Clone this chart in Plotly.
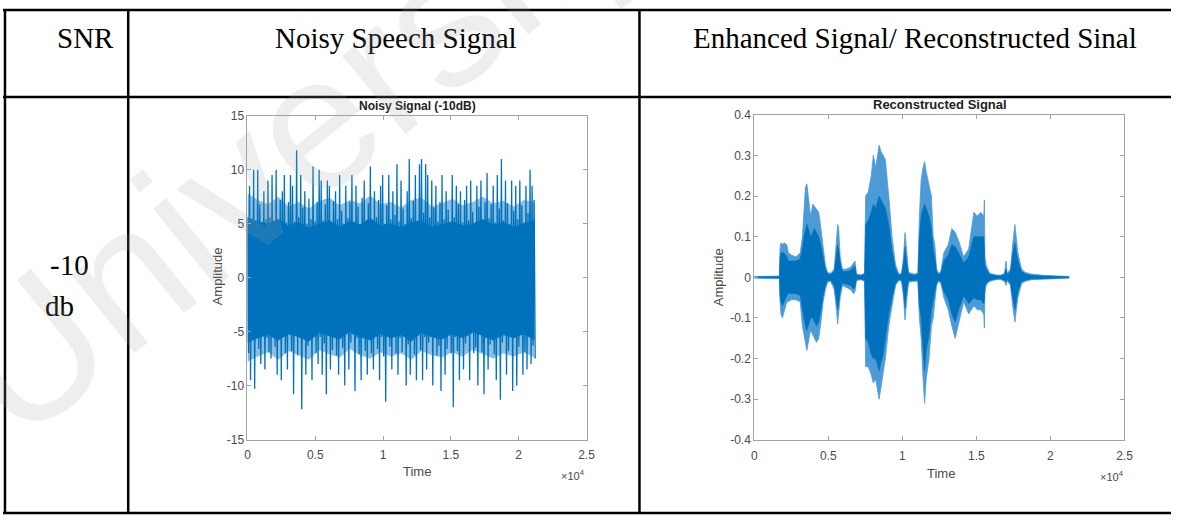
import plotly.graph_objects as go

# ---------------- data ----------------
headers = ["SNR", "Noisy Speech Signal", "Enhanced Signal/ Reconstructed Sinal"]
snr_label = ["-10", "db"]

x_ticks = [0, 5000, 10000, 15000, 20000, 25000]
x_ticklabels = ["0", "0.5", "1", "1.5", "2", "2.5"]

noisy_yticks = [-15, -10, -5, 0, 5, 10, 15]
noisy_yticklabels = ["-15", "-10", "-5", "0", "5", "10", "15"]

recon_yticks = [-0.4, -0.3, -0.2, -0.1, 0, 0.1, 0.2, 0.3, 0.4]
recon_yticklabels = ["-0.4", "-0.3", "-0.2", "-0.1", "0", "0.1", "0.2", "0.3", "0.4"]

# noisy signal: peak / trough per block of `noisy_step` samples
noisy_step = 151
noisy_upper = [
    5.5, 8.5, 5.2, 10, 5.0, 10, 6.8, 5.1, 8, 5.4,
    9, 5.6, 9.5, 5.0, 10, 5.3, 7.2, 8, 9.5, 5.1,
    7.0, 9.5, 8.5, 5.2, 11.8, 5.6, 9.5, 6.5, 8, 5.0,
    7.3, 5.4, 10.3, 5.2, 7.0, 10, 9, 5.3, 6.8, 9,
    8.5, 5.1, 7.1, 8, 5.4, 9.5, 6.2, 5.0, 8.5, 5.5,
    7.0, 9.5, 5.2, 8.5, 6.6, 4.9, 7.4, 9, 5.3, 6.9,
    10.3, 5.1, 8, 5.6, 7.2, 8.5, 9.5, 5.0, 6.7, 9.5,
    5.4, 8, 5.8, 10.5, 5.2, 9, 6.4, 5.0, 8, 11,
    5.5, 7.1, 9.5, 5.3, 10.5, 11, 6.0, 10.5, 9.5, 5.6,
    9, 6.5, 8.5, 5.2, 7.0, 9.5, 5.4, 8, 6.3, 5.0,
    9.5, 5.6, 8.5, 6.8, 8, 5.1, 7.2, 8.5, 5.3, 9,
    6.1, 5.0, 8.5, 6.6, 9, 5.2, 7.0, 9.7, 5.5, 6.8,
    8.5, 5.1, 9.5, 6.4, 11, 5.3, 9, 6.9, 5.0, 9,
    6.2, 8.5, 5.4, 9, 6.7, 5.1, 8.5, 6.0, 10, 8.5,
    7.2,
]
noisy_lower = [
    -7.0, -9.5, -5.0, -10.3, -5.4, -6.6, -8, -5.1, -8.5, -5.6,
    -6.9, -7.5, -5.2, -6.4, -9, -5.0, -9.5, -5.5, -7.0, -8.5,
    -5.3, -6.8, -10.8, -5.1, -7.2, -5.6, -12.2, -5.0, -9, -6.3,
    -5.4, -9.5, -5.2, -7.0, -8, -5.5, -9, -6.1, -10.8, -5.3,
    -8.5, -6.7, -5.0, -7.2, -9, -5.4, -6.5, -10, -5.1, -8.5,
    -6.0, -5.3, -10.5, -5.6, -7.1, -9.5, -5.0, -6.8, -9, -5.4,
    -7.0, -8.5, -5.2, -6.6, -9.5, -5.5, -7.3, -11.5, -5.1, -6.4,
    -8.5, -5.3, -7.0, -9, -5.6, -6.9, -5.0, -10, -6.2, -9,
    -5.4, -7.1, -9.5, -5.2, -6.7, -9.5, -5.5, -8.5, -6.0, -5.1,
    -10, -5.4, -7.2, -6.3, -10.5, -5.0, -9, -6.6, -5.3, -7.0,
    -12, -5.5, -6.8, -9.5, -5.1, -8.5, -6.1, -5.4, -9.5, -5.2,
    -7.0, -6.5, -10, -5.3, -6.9, -10.8, -5.6, -8.5, -6.2, -5.0,
    -7.1, -9.5, -5.4, -11.3, -6.0, -5.2, -9, -6.8, -5.5, -10.5,
    -5.1, -10, -6.4, -5.3, -9, -6.9, -8.5, -5.0, -8, -6.3,
    -7.5,
]
# dense body of the noisy waveform, one value every 5 blocks
noisy_core_upper = [
    5.6, 5.2, 5.0, 5.4, 4.8, 5.1, 4.6, 5.0, 5.3, 4.7,
    5.2, 4.9, 5.5, 4.8, 5.0, 4.6, 5.1, 5.3, 4.7, 4.9,
    5.2, 4.8, 5.0, 5.4, 4.9, 5.1, 4.7, 5.0, 5.3,
]
noisy_core_lower = [
    -6.0, -5.6, -5.3, -5.8, -5.2, -5.5, -5.9, -5.1, -5.4, -5.7,
    -5.0, -5.5, -5.8, -5.2, -5.6, -5.3, -5.9, -5.1, -5.5, -5.7,
    -5.2, -5.6, -5.0, -5.4, -5.8, -5.3, -5.6, -5.2, -5.8,
]
# looser fringe around the body, same spacing
noisy_fringe_upper = [
    7.8, 7.2, 6.8, 7.5, 6.6, 7.0, 6.4, 7.1, 7.4, 6.7,
    7.2, 6.9, 7.6, 6.8, 7.0, 6.5, 7.2, 7.4, 6.6, 6.9,
    7.3, 6.7, 7.0, 7.5, 6.9, 7.1, 6.6, 7.2, 7.0,
]
noisy_fringe_lower = [
    -7.8, -7.3, -6.9, -7.6, -6.8, -7.2, -7.6, -6.7, -7.1, -7.4,
    -6.6, -7.2, -7.5, -6.9, -7.3, -7.0, -7.6, -6.8, -7.2, -7.4,
    -6.9, -7.3, -6.7, -7.1, -7.5, -7.0, -7.3, -6.9, -7.4,
]
noisy_core_every = 5

# reconstructed signal: outer envelope and denser inner core (sample index, amplitude)
recon_t = [
    0, 1000, 1700, 1740, 1800, 1900, 2000, 2200, 2300, 2500,
    2800, 3100, 3250, 3350, 3450, 3550, 3650, 3800, 3950, 4050,
    4200, 4350, 4500, 4650, 4800, 4950, 5150, 5400, 5550, 5630,
    5700, 5800, 5950, 6200, 6500, 6700, 6800, 6900, 7200, 7450,
    7520, 7700, 7900, 8040, 8200, 8430, 8550, 8700, 8850, 9080,
    9300, 9540, 9770, 9950, 10080, 10180, 10280, 10420, 10800, 11050,
    11150, 11270, 11400, 11500, 11610, 11800, 11960, 12080, 12190, 12310,
    12450, 12600, 12800, 13100, 13340, 13570, 13800, 14140, 14480, 14830,
    15060, 15290, 15500, 15540, 15570, 15650, 15900, 16300, 16600, 16900,
    17000, 17080, 17300, 17450, 17600, 17800, 18050, 18300, 18700, 19500,
    20500, 21250,
]
recon_upper = [
    .002, .002, .003, .07, .085, .08, .085, .08, .06, .055,
    .05, .06, .1, .16, .22, .23, .2, .15, .18, .175,
    .17, .16, .12, .07, .03, .012, .01, .02, .08, .13,
    .12, .05, .02, .02, .025, .035, .04, .008, .006, .01,
    .2, .21, .25, .3, .27, .325, .31, .3, .29, .2,
    .1, .03, .008, .01, .05, .11, .06, .012, .008, .01,
    .15, .24, .27, .285, .26, .23, .2, .1, .08, .02,
    .01, .015, .06, .08, .12, .11, .09, .05, .07, .16,
    .15, .16, .15, .19, .05, .03, .01, .006, .005, .01,
    .04, .01, .02, .08, .13, .06, .02, .012, .008, .005,
    .003, .002,
]
recon_lower = [
    -.002, -.002, -.003, -.06, -.09, -.1, -.085, -.06, -.06, -.055,
    -.055, -.06, -.12, -.14, -.16, -.18, -.16, -.13, -.14, -.15,
    -.16, -.15, -.11, -.06, -.03, -.012, -.01, -.03, -.08, -.115,
    -.1, -.05, -.02, -.025, -.03, -.04, -.035, -.008, -.006, -.01,
    -.22, -.22, -.24, -.26, -.25, -.3, -.27, -.24, -.2, -.12,
    -.07, -.02, -.008, -.01, -.05, -.105, -.06, -.012, -.01, -.01,
    -.1, -.15, -.25, -.31, -.25, -.2, -.12, -.1, -.06, -.02,
    -.01, -.015, -.05, -.08, -.12, -.15, -.11, -.06, -.09, -.07,
    -.08, -.08, -.09, -.125, -.04, -.02, -.01, -.006, -.005, -.01,
    -.02, -.008, -.02, -.07, -.11, -.05, -.015, -.01, -.006, -.004,
    -.003, -.002,
]
recon_core_upper = [
    .001, .001, .002, .05, .06, .06, .06, .05, .04, .04,
    .04, .045, .07, .1, .12, .13, .12, .1, .11, .12,
    .11, .1, .08, .05, .02, .008, .007, .014, .05, .08,
    .07, .035, .014, .014, .017, .025, .028, .005, .004, .007,
    .13, .14, .16, .18, .17, .2, .19, .18, .17, .13,
    .065, .02, .005, .007, .035, .075, .04, .008, .005, .007,
    .1, .15, .17, .18, .17, .15, .12, .065, .05, .014,
    .007, .01, .04, .055, .08, .075, .06, .035, .05, .1,
    .1, .1, .1, .07, .03, .02, .007, .004, .003, .007,
    .02, .007, .014, .055, .085, .04, .014, .008, .005, .003,
    .002, .001,
]
recon_core_lower = [
    -.001, -.001, -.002, -.045, -.06, -.07, -.06, -.045, -.04, -.04,
    -.04, -.045, -.08, -.1, -.12, -.13, -.12, -.1, -.1, -.11,
    -.12, -.11, -.08, -.045, -.02, -.008, -.007, -.02, -.055, -.08,
    -.07, -.035, -.014, -.017, -.02, -.028, -.025, -.005, -.004, -.007,
    -.15, -.16, -.19, -.2, -.2, -.23, -.21, -.19, -.15, -.09,
    -.05, -.014, -.005, -.007, -.035, -.075, -.04, -.008, -.007, -.007,
    -.07, -.1, -.18, -.23, -.18, -.14, -.08, -.065, -.04, -.014,
    -.007, -.01, -.035, -.055, -.09, -.11, -.08, -.045, -.065, -.05,
    -.055, -.055, -.065, -.055, -.025, -.014, -.007, -.004, -.003, -.007,
    -.012, -.006, -.014, -.05, -.08, -.035, -.01, -.007, -.004, -.003,
    -.002, -.001,
]

assert len(noisy_upper) == len(noisy_lower)
assert len({len(noisy_core_upper), len(noisy_core_lower),
            len(noisy_fringe_upper), len(noisy_fringe_lower)}) == 1
assert all(len(a) == len(recon_t) for a in
           (recon_upper, recon_lower, recon_core_upper, recon_core_lower))

# ---------------- layout helpers (pixel -> paper) ----------------
W, H = 1180, 522


def px(x):
    return x / W


def py(y):
    return 1 - y / H


BLUE = "#0072BD"
LIGHT_BLUE = "#4c9ad6"
AXIS_GREY = "#a3a3a3"
LABEL_GREY = "#4a4a4a"
SANS = "Liberation Sans, Arial, Helvetica, sans-serif"
SERIF = "Liberation Serif, Times New Roman, serif"

fig = go.Figure()


def band(t, upper, lower, color, width, axes):
    fig.add_trace(go.Scatter(
        x=t + t[::-1], y=upper + lower[::-1],
        fill="toself", fillcolor=color, mode="lines",
        line=dict(color=color, width=width),
        hoverinfo="skip", showlegend=False, xaxis=axes[0], yaxis=axes[1],
    ))


# noisy signal: fringe, solid body, then the individual spikes
core_t = [i * noisy_step * noisy_core_every for i in range(len(noisy_core_upper))]
band(core_t, noisy_fringe_upper, noisy_fringe_lower, "rgba(0,114,189,0.45)", 0, ("x", "y"))
band(core_t, noisy_core_upper, noisy_core_lower, BLUE, 0.5, ("x", "y"))

noisy_x, noisy_y = [], []
for i, (hi, lo) in enumerate(zip(noisy_upper, noisy_lower)):
    noisy_x += [i * noisy_step, i * noisy_step + noisy_step / 2]
    noisy_y += [hi, lo]
fig.add_trace(go.Scatter(
    x=noisy_x, y=noisy_y, mode="lines",
    line=dict(color=BLUE, width=1.3),
    hoverinfo="skip", showlegend=False, xaxis="x", yaxis="y",
))

# reconstructed signal: lighter outer band then solid inner core
band(recon_t, recon_upper, recon_lower, LIGHT_BLUE, 0.8, ("x2", "y2"))
band(recon_t, recon_core_upper, recon_core_lower, BLUE, 0.6, ("x2", "y2"))

axis_common = dict(
    showline=True, linecolor=AXIS_GREY, linewidth=1, mirror="ticks",
    ticks="inside", ticklen=4, tickcolor=AXIS_GREY, tickwidth=1,
    showgrid=False, zeroline=False, fixedrange=True,
    tickfont=dict(family=SANS, size=12, color=LABEL_GREY),
)

fig.update_layout(
    width=W, height=H,
    margin=dict(l=0, r=0, t=0, b=0),
    paper_bgcolor="white", plot_bgcolor="white",
    showlegend=False,
    xaxis=dict(domain=[px(247), px(589.5)], range=[0, 25000],
               tickvals=x_ticks, ticktext=x_ticklabels, anchor="y",
               ticklabelstandoff=4, **axis_common),
    yaxis=dict(domain=[py(444.5), py(111.7)], range=[-15, 15],
               tickvals=noisy_yticks, ticktext=noisy_yticklabels, anchor="x", **axis_common),
    xaxis2=dict(domain=[px(759), px(1133)], range=[0, 25000],
                tickvals=x_ticks, ticktext=x_ticklabels, anchor="y2",
                ticklabelstandoff=5, **axis_common),
    yaxis2=dict(domain=[py(444.8), py(110.7)], range=[-0.4, 0.4],
                tickvals=recon_yticks, ticktext=recon_yticklabels, anchor="x2", **axis_common),
)

# ---------------- table rules ----------------
rules = [
    (0, 3, W, 3), (0, 92.5, W, 92.5), (0, 520, W, 520),
    (2, 3, 2, 520), (126.5, 3, 126.5, 520), (643, 3, 643, 520),
]
for x0, y0, x1, y1 in rules:
    fig.add_shape(type="line", xref="paper", yref="paper",
                  x0=px(x0), y0=py(y0), x1=px(x1), y1=py(y1),
                  line=dict(color="black", width=2.5))


# ---------------- text ----------------
def label(text, x, y, size, family=SANS, color="black", angle=0, xanchor="center"):
    fig.add_annotation(text=text, x=px(x), y=py(y), xref="paper", yref="paper",
                       showarrow=False, xanchor=xanchor, yanchor="middle",
                       textangle=angle, font=dict(family=family, size=size, color=color))


label(headers[0], 83.5, 32, 29, SERIF)
label(headers[1], 397, 32, 29, SERIF)
label(headers[2], 921, 32, 29, SERIF)
label(snr_label[0], 67.5, 265, 29, SERIF)
label(snr_label[1], 57, 307, 29, SERIF)

label("<b>Noisy Signal (-10dB)</b>", 418.5, 101.5, 12, color="#222222")
label("<b>Reconstructed Signal</b>", 947, 100.5, 13, color="#222222")
label("Amplitude", 217, 277, 13, color=LABEL_GREY, angle=-90)
label("Amplitude", 723, 278, 13, color=LABEL_GREY, angle=-90)
label("Time", 418.5, 477.5, 13, color=LABEL_GREY)
label("Time", 948, 479, 13, color=LABEL_GREY)
label("×10<sup>4</sup>", 590, 481, 11, color=LABEL_GREY, xanchor="right")
label("×10<sup>4</sup>", 1135, 482, 11, color=LABEL_GREY, xanchor="right")

# faint diagonal watermark across the left of the page
label("University", 300, 130, 190, color="rgba(160,160,160,0.18)", angle=-39)

fig.write_html("out.html")
